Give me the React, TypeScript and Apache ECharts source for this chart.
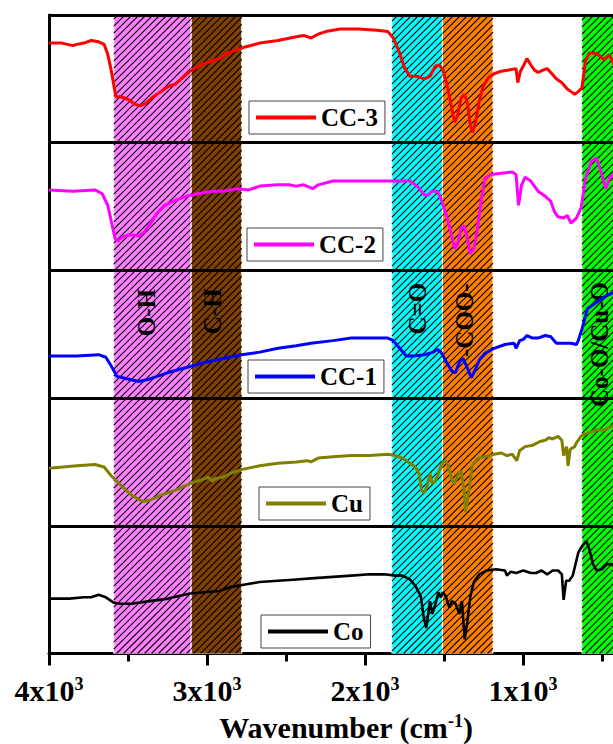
import React, { useEffect, useRef } from "react";
import * as echarts from "echarts";

const FONT = '"Liberation Serif", "Times New Roman", serif';

// ---- spectra (wavenumber, relative transmittance within each panel) ----
const cc3Wn = [4000, 3918, 3848, 3825, 3779, 3733, 3686, 3651, 3628, 3605, 3587, 3577, 3547, 3501, 3454, 3420, 3385, 3339, 3292, 3246, 3199, 3153, 3107, 3037, 2968, 2921, 2875, 2805, 2759, 2666, 2551, 2435, 2388, 2342, 2296, 2249, 2157, 2041, 1925, 1855, 1821, 1786, 1751, 1716, 1670, 1624, 1589, 1554, 1531, 1508, 1484, 1461, 1433, 1415, 1392, 1369, 1350, 1334, 1318, 1299, 1276, 1253, 1218, 1183, 1137, 1090, 1044, 1033, 1016, 998, 975, 951, 928, 905, 870, 847, 824, 789, 754, 720, 696, 673, 650, 627, 604, 581, 534, 488, 453, 420];
const cc3T = [0.78, 0.78, 0.76, 0.77, 0.78, 0.80, 0.79, 0.77, 0.69, 0.56, 0.43, 0.36, 0.36, 0.34, 0.30, 0.29, 0.31, 0.36, 0.40, 0.44, 0.46, 0.51, 0.56, 0.61, 0.64, 0.66, 0.70, 0.73, 0.75, 0.78, 0.80, 0.83, 0.84, 0.82, 0.85, 0.87, 0.89, 0.89, 0.88, 0.87, 0.82, 0.72, 0.59, 0.52, 0.52, 0.50, 0.52, 0.60, 0.61, 0.57, 0.47, 0.33, 0.16, 0.21, 0.35, 0.38, 0.30, 0.14, 0.08, 0.17, 0.33, 0.44, 0.51, 0.54, 0.56, 0.57, 0.58, 0.47, 0.56, 0.60, 0.66, 0.61, 0.57, 0.55, 0.57, 0.58, 0.55, 0.50, 0.47, 0.42, 0.40, 0.38, 0.40, 0.43, 0.64, 0.70, 0.70, 0.65, 0.69, 0.60];

const cc2Wn = [4000, 3848, 3709, 3663, 3628, 3605, 3582, 3566, 3536, 3489, 3431, 3397, 3362, 3315, 3269, 3199, 3130, 3060, 2968, 2898, 2805, 2736, 2666, 2551, 2481, 2435, 2388, 2330, 2296, 2203, 2087, 1971, 1855, 1763, 1716, 1670, 1624, 1600, 1577, 1542, 1519, 1484, 1457, 1433, 1415, 1392, 1373, 1357, 1334, 1311, 1287, 1264, 1241, 1206, 1137, 1067, 1044, 1028, 1009, 986, 951, 905, 859, 824, 801, 778, 743, 720, 696, 662, 632, 604, 569, 534, 511, 476, 453, 420];
const cc2T = [0.63, 0.62, 0.63, 0.60, 0.51, 0.38, 0.25, 0.23, 0.26, 0.28, 0.27, 0.30, 0.36, 0.45, 0.51, 0.55, 0.58, 0.60, 0.62, 0.62, 0.64, 0.63, 0.66, 0.67, 0.67, 0.66, 0.67, 0.64, 0.67, 0.70, 0.70, 0.70, 0.70, 0.70, 0.70, 0.66, 0.59, 0.59, 0.62, 0.62, 0.56, 0.43, 0.30, 0.17, 0.20, 0.33, 0.35, 0.28, 0.13, 0.17, 0.33, 0.56, 0.72, 0.75, 0.76, 0.77, 0.75, 0.51, 0.67, 0.73, 0.70, 0.62, 0.58, 0.54, 0.46, 0.42, 0.41, 0.43, 0.37, 0.41, 0.49, 0.72, 0.85, 0.88, 0.79, 0.64, 0.72, 0.77];

const cc1Wn = [4000, 3825, 3686, 3640, 3605, 3570, 3501, 3431, 3362, 3246, 3130, 3014, 2898, 2782, 2666, 2551, 2435, 2342, 2203, 2087, 1971, 1855, 1821, 1774, 1739, 1693, 1624, 1566, 1542, 1519, 1484, 1450, 1427, 1403, 1380, 1357, 1327, 1299, 1276, 1241, 1183, 1114, 1056, 1044, 1021, 998, 975, 940, 905, 859, 824, 789, 743, 696, 662, 650, 627, 592, 534, 488, 420];
const cc1T = [0.33, 0.33, 0.34, 0.32, 0.25, 0.17, 0.15, 0.13, 0.15, 0.20, 0.24, 0.28, 0.31, 0.34, 0.36, 0.39, 0.41, 0.43, 0.45, 0.47, 0.47, 0.47, 0.45, 0.38, 0.33, 0.33, 0.34, 0.36, 0.38, 0.36, 0.28, 0.21, 0.20, 0.28, 0.31, 0.25, 0.16, 0.23, 0.30, 0.35, 0.39, 0.42, 0.43, 0.39, 0.45, 0.46, 0.49, 0.47, 0.47, 0.49, 0.48, 0.43, 0.43, 0.43, 0.42, 0.45, 0.54, 0.70, 0.75, 0.79, 0.83];

const cuWn = [4000, 3825, 3709, 3651, 3605, 3547, 3478, 3408, 3362, 3292, 3199, 3107, 3037, 2991, 2968, 2945, 2898, 2852, 2782, 2666, 2551, 2435, 2365, 2342, 2296, 2203, 2087, 1971, 1855, 1809, 1763, 1716, 1681, 1658, 1642, 1624, 1605, 1589, 1573, 1554, 1531, 1508, 1489, 1473, 1450, 1433, 1415, 1392, 1373, 1364, 1345, 1322, 1287, 1241, 1183, 1137, 1102, 1067, 1039, 1021, 986, 940, 893, 859, 836, 812, 778, 754, 743, 724, 715, 701, 673, 662, 627, 581, 534, 488, 420];
const cuT = [0.45, 0.47, 0.48, 0.46, 0.39, 0.32, 0.24, 0.19, 0.20, 0.24, 0.28, 0.33, 0.36, 0.38, 0.35, 0.37, 0.38, 0.41, 0.44, 0.47, 0.49, 0.50, 0.51, 0.50, 0.53, 0.54, 0.55, 0.55, 0.56, 0.55, 0.53, 0.49, 0.46, 0.41, 0.28, 0.26, 0.32, 0.41, 0.33, 0.35, 0.43, 0.50, 0.51, 0.47, 0.36, 0.33, 0.39, 0.43, 0.28, 0.11, 0.25, 0.47, 0.53, 0.54, 0.56, 0.57, 0.55, 0.56, 0.51, 0.59, 0.62, 0.63, 0.66, 0.67, 0.69, 0.68, 0.70, 0.67, 0.55, 0.62, 0.47, 0.60, 0.62, 0.65, 0.71, 0.73, 0.75, 0.75, 0.79];

const coWn = [4000, 3872, 3779, 3733, 3686, 3640, 3593, 3547, 3478, 3362, 3246, 3107, 3014, 2921, 2852, 2759, 2666, 2551, 2435, 2319, 2203, 2087, 1971, 1878, 1809, 1763, 1716, 1681, 1647, 1628, 1612, 1600, 1589, 1573, 1554, 1535, 1519, 1508, 1489, 1466, 1450, 1427, 1403, 1387, 1369, 1352, 1334, 1311, 1276, 1229, 1172, 1114, 1102, 1079, 1044, 998, 951, 917, 882, 847, 812, 778, 754, 743, 727, 708, 685, 650, 627, 599, 581, 557, 534, 500, 469, 441, 420];
const coT = [0.43, 0.43, 0.44, 0.44, 0.46, 0.44, 0.40, 0.39, 0.39, 0.41, 0.43, 0.47, 0.48, 0.49, 0.52, 0.54, 0.56, 0.57, 0.58, 0.59, 0.60, 0.61, 0.62, 0.62, 0.61, 0.61, 0.58, 0.53, 0.45, 0.28, 0.20, 0.31, 0.41, 0.31, 0.39, 0.48, 0.44, 0.48, 0.45, 0.36, 0.41, 0.39, 0.31, 0.41, 0.11, 0.25, 0.44, 0.56, 0.62, 0.65, 0.66, 0.65, 0.61, 0.64, 0.63, 0.65, 0.63, 0.63, 0.65, 0.62, 0.65, 0.65, 0.62, 0.42, 0.57, 0.57, 0.61, 0.79, 0.84, 0.88, 0.82, 0.70, 0.65, 0.66, 0.70, 0.70, 0.68];

// ---- absorption bands ----
const bandLabels = ["O-H", "C-H", "C=O", "-COO-", "Co-O/Cu-O"];
const bandStart = [3590, 3100, 1830, 1510, 627];
const bandEnd = [3100, 2780, 1510, 1190, 380];
const bandColors = ["#FF80FF", "#804000", "#00FFFF", "#FF8000", "#00FF00"];
// label anchors (wavenumber, stacked y)
const bandLabelWn = [3380, 2963, 1670, 1369, 513];
const bandLabelY = [2.67, 2.68, 2.7, 2.61, 2.42];

// ---- axis ----
const xTickValues = [4000, 3000, 2000, 1000];
const xAxisName = "Wavenumber";

const panels = [
  { name: "CC-3", wn: cc3Wn, t: cc3T, color: "#FF0000", offset: 4, lx: 249, ly: 101, lw: 3 },
  { name: "CC-2", wn: cc2Wn, t: cc2T, color: "#FF00FF", offset: 3, lx: 247, ly: 228, lw: 3 },
  { name: "CC-1", wn: cc1Wn, t: cc1T, color: "#0000FF", offset: 2, lx: 248, ly: 360, lw: 3 },
  { name: "Cu", wn: cuWn, t: cuT, color: "#808000", offset: 1, lx: 259, ly: 487, lw: 3 },
  { name: "Co", wn: coWn, t: coT, color: "#000000", offset: 0, lx: 261, ly: 615, lw: 2.6 },
];

function renderBand(params: any, api: any) {
  const i = params.dataIndex;
  const p1 = api.coord([api.value(0), api.value(3)]);
  const p2 = api.coord([api.value(1), api.value(2)]);
  const x1 = Math.min(p1[0], p2[0]);
  const x2 = Math.max(p1[0], p2[0]);
  const y1 = Math.min(p1[1], p2[1]);
  const y2 = Math.max(p1[1], p2[1]);
  const children: any[] = [
    {
      type: "rect",
      shape: { x: x1, y: y1, width: x2 - x1, height: y2 - y1 },
      style: { fill: bandColors[i], stroke: "#ffffff", lineWidth: 1 },
    },
  ];
  const step = 7;
  const cMin = x1 + y1;
  const cMax = x2 + y2;
  for (let c = Math.ceil(cMin / step) * step; c <= cMax; c += step) {
    const xa = Math.max(x1, c - y2);
    const xb = Math.min(x2, c - y1);
    if (xb <= xa) continue;
    children.push({
      type: "line",
      shape: { x1: xa, y1: c - xa, x2: xb, y2: c - xb },
      style: { stroke: "#000000", lineWidth: 1.1 },
    });
  }
  const lp = api.coord([bandLabelWn[i], bandLabelY[i]]);
  children.push({
    type: "text",
    x: lp[0],
    y: lp[1],
    rotation: Math.PI / 2,
    style: {
      text: bandLabels[i],
      fill: "#000000",
      font: `bold 25px ${FONT}`,
      align: "center",
      verticalAlign: "middle",
    },
  });
  return { type: "group", children };
}

export default function App() {
  const ref = useRef<HTMLDivElement>(null);
  useEffect(() => {
    document.body.style.margin = "0";
    const chart = echarts.init(ref.current!, null, { renderer: "svg" });
    const bandData = bandStart.map((s, i) => [s, bandEnd[i], 0, 5]);
    const series: any[] = [
      {
        type: "custom",
        name: "bands",
        renderItem: renderBand,
        data: bandData,
        encode: { x: [0, 1], y: [2, 3] },
        z: 1,
        silent: true,
        clip: true,
      },
    ];
    panels.forEach((p, idx) => {
      const data = p.wn.map((w, k) => [w, p.t[k] + p.offset]);
      const s: any = {
        type: "line",
        name: p.name,
        data,
        showSymbol: false,
        symbol: "none",
        color: p.color,
        lineStyle: { color: p.color, width: p.lw },
        z: 3,
        silent: true,
      };
      if (idx === panels.length - 1) {
        s.markLine = {
          silent: true,
          symbol: ["none", "none"],
          label: { show: false },
          lineStyle: { color: "#000", width: 3, type: "solid" },
          data: [1, 2, 3, 4, 5].map((v) => ({ yAxis: v })),
        };
      }
      series.push(s);
    });

    const option: any = {
      animation: false,
      backgroundColor: "#ffffff",
      grid: { left: 49, top: 15, width: 632, height: 638.5, outerBoundsMode: "none", containLabel: false },
      legend: panels.map((p) => ({
        data: [p.name],
        left: p.lx,
        top: p.ly,
        orient: "horizontal",
        padding: [4, 7],
        itemWidth: 60,
        itemHeight: 4,
        icon: "rect",
        borderColor: "#444",
        borderWidth: 1,
        selectedMode: false,
        textStyle: { fontFamily: FONT, fontWeight: "bold", fontSize: 25, color: "#000" },
      })),
      xAxis: [
        {
          type: "value",
          min: 0,
          max: 4000,
          interval: 1000,
          inverse: true,
          position: "bottom",
          axisLine: { onZero: false, lineStyle: { color: "#000", width: 3 } },
          axisTick: { length: 12, lineStyle: { color: "#000", width: 3 } },
          splitLine: { show: false },
          axisLabel: {
            margin: 21,
            formatter: (v: number) =>
              xTickValues.indexOf(v) >= 0 ? `{m|${v / 1000}x10}{s|3}` : "",
            rich: {
              m: { fontFamily: FONT, fontWeight: "bold", fontSize: 30, lineHeight: 32, color: "#000" },
              s: { fontFamily: FONT, fontWeight: "bold", fontSize: 18, lineHeight: 16, verticalAlign: "top", color: "#000" },
            },
          },
          name: `{n|${xAxisName} (cm}{s|-1}{n|)}`,
          nameLocation: "middle",
          nameGap: 58,
          nameTextStyle: {
            padding: [0, 38, 0, 0],
            rich: {
              n: { fontFamily: FONT, fontWeight: "bold", fontSize: 30, lineHeight: 32, color: "#000" },
              s: { fontFamily: FONT, fontWeight: "bold", fontSize: 18, lineHeight: 16, verticalAlign: "top", color: "#000" },
            },
          },
        },
        {
          type: "value",
          min: 0,
          max: 4000,
          interval: 500,
          inverse: true,
          position: "bottom",
          axisLine: { show: false, onZero: false },
          axisTick: { length: 8, lineStyle: { color: "#000", width: 3 } },
          axisLabel: { show: false },
          splitLine: { show: false },
        },
      ],
      yAxis: {
        type: "value",
        min: 0,
        max: 5,
        interval: 1,
        axisLine: { show: true, onZero: false, lineStyle: { color: "#000", width: 3 } },
        axisTick: { show: false },
        axisLabel: { show: false },
        splitLine: { show: false },
      },
      series,
    };
    chart.setOption(option);
    return () => chart.dispose();
  }, []);
  return <div ref={ref} style={{ width: 613, height: 744 }} />;
}
